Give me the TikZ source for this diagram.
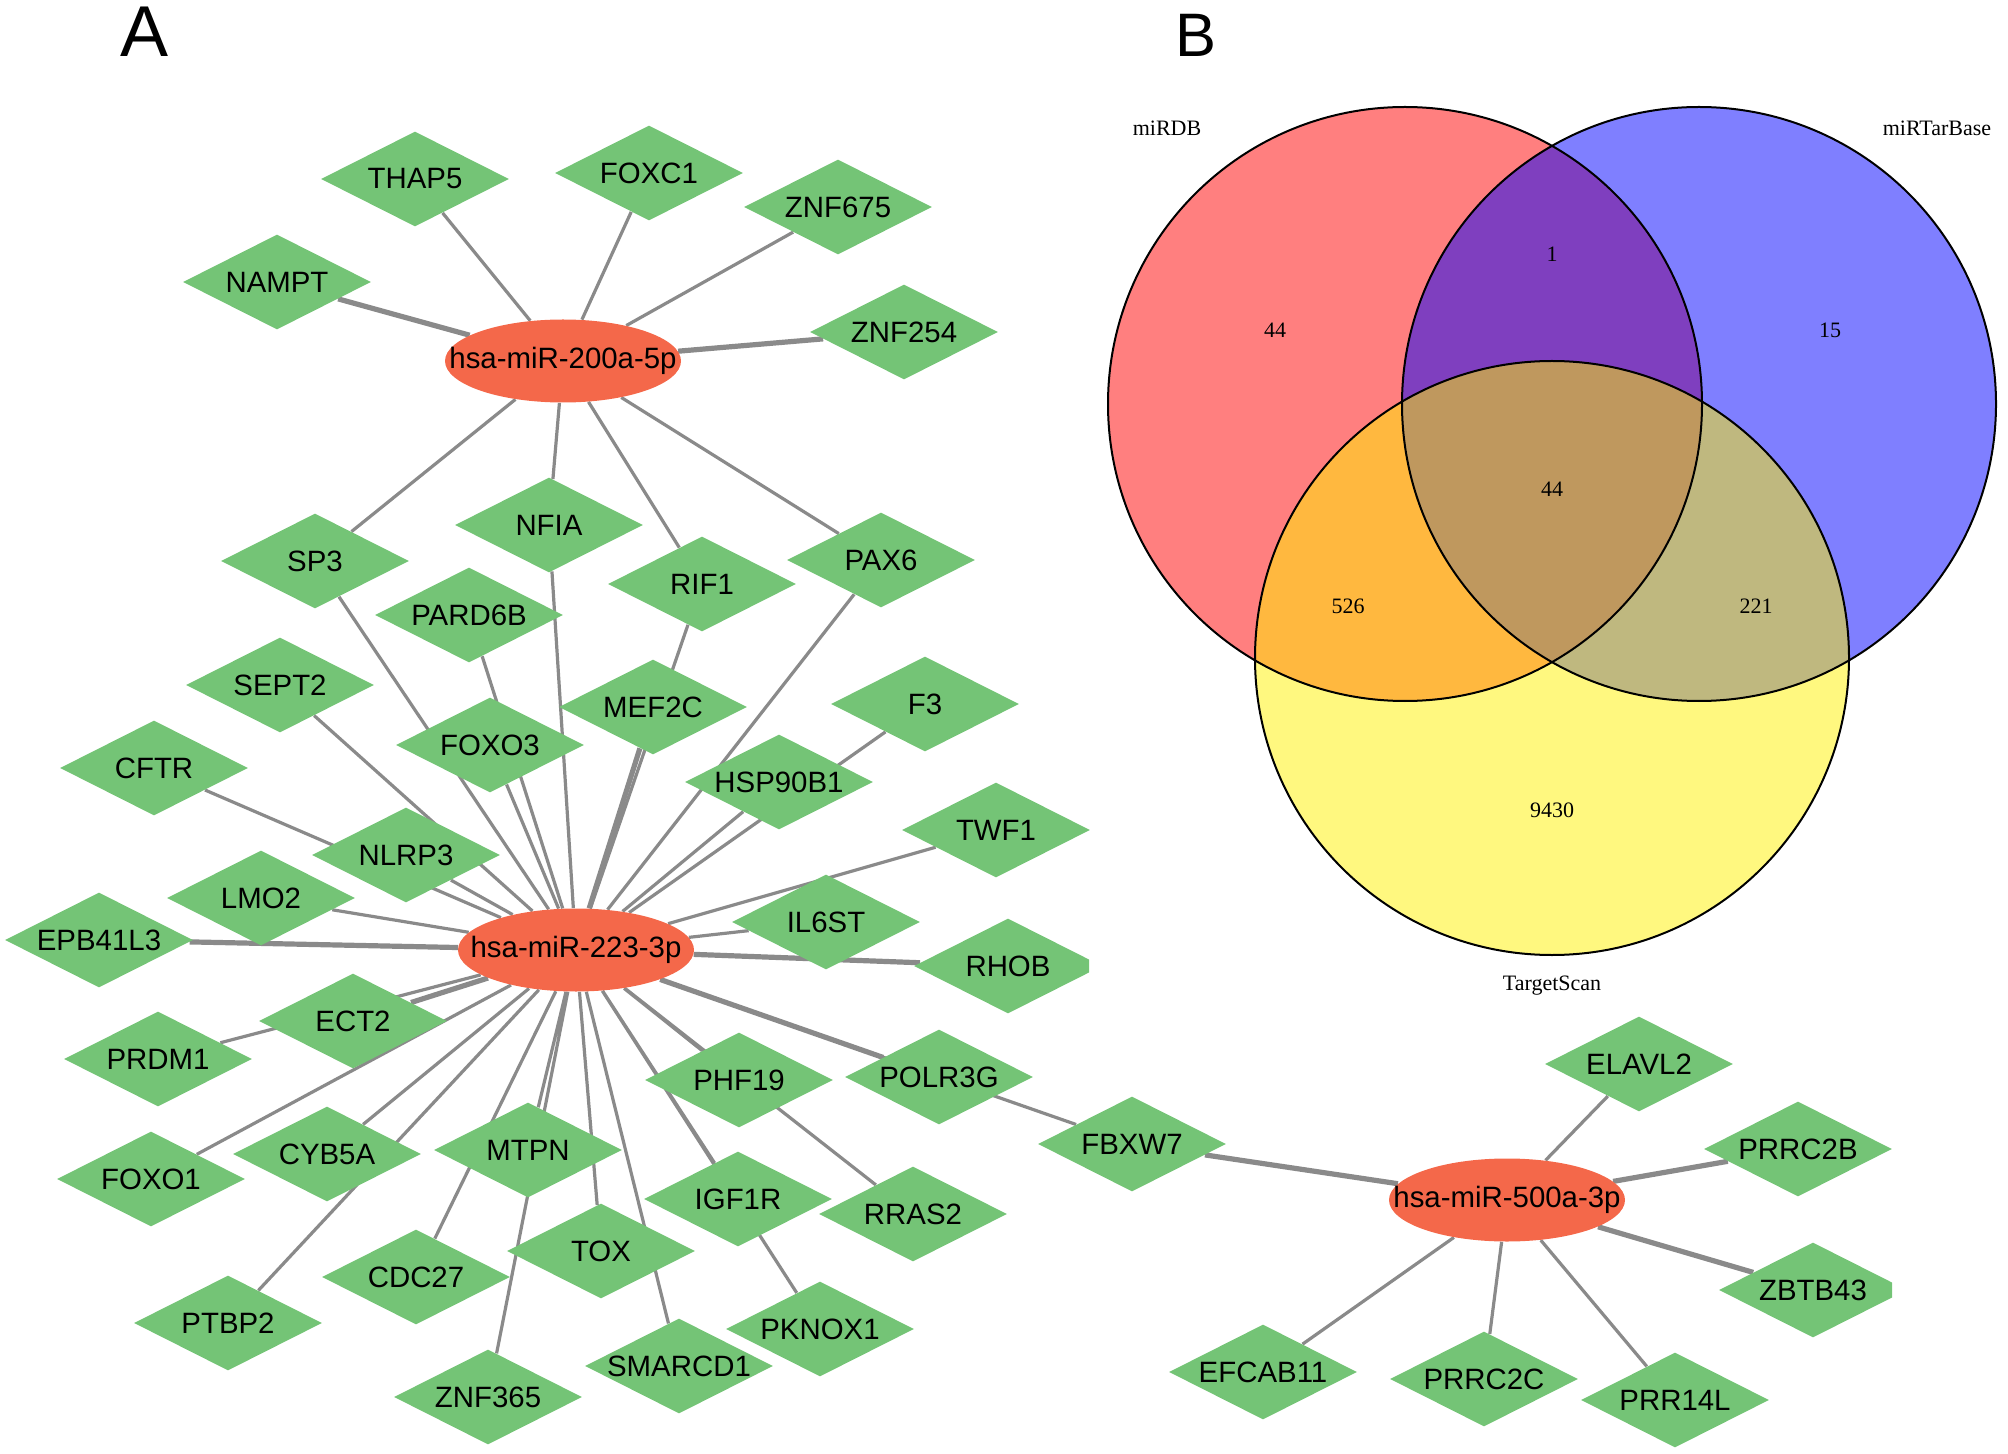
\documentclass[tikz,border=0pt]{standalone}
\usepackage{fontspec}
\setmainfont{Liberation Sans}
\newfontfamily\vennfont{Liberation Serif}
\usetikzlibrary{shapes.geometric}
\pgfdeclarelayer{background}
\pgfsetlayers{background,main}
\definecolor{genegreen}{RGB}{116,196,118}
\definecolor{mirred}{RGB}{244,104,74}
\definecolor{edgegray}{RGB}{138,138,138}

\begin{document}
\begin{tikzpicture}[x=0.5pt, y=-0.5pt,
    flat/.style={inner sep=0pt, execute at begin node={\hbox to 0pt\bgroup\hss},
      execute at end node={\hss\egroup}, font=\fontsize{14.7}{16}\selectfont},
    gene/.style={flat, shape=diamond, fill=genegreen, minimum width=94pt, minimum height=47.5pt},
    mir/.style={flat, shape=ellipse, fill=mirred, minimum width=118pt, minimum height=41.5pt},
    edge/.style={draw=edgegray, line width=1.6pt},
    heavy/.style={draw=edgegray, line width=2.6pt},
    setfill/.style={fill opacity=0.5},
    venn/.style={font=\vennfont\fontsize{11}{13}\selectfont},
    panel/.style={anchor=base}]

  \useasboundingbox (0,0) rectangle (2008,1454);

  % panel letters
  \node[panel, font=\fontsize{36}{40}\selectfont] (panela) at (145,57) {A};
  \node[panel, font=\fontsize{30.7}{34}\selectfont] (panelb) at (1196,57) {B};

  % hubs
  \node[mir] (hubA) at (563 , 361 ) {hsa-miR-200a-5p};
  \node[mir] (hubB) at (576 , 950 ) {hsa-miR-223-3p};
  \node[mir] (hubC) at (1507, 1200) {hsa-miR-500a-3p};

  % targets of miR-200a-5p
  \node[gene] (thap5)  at (415, 179) {THAP5};
  \node[gene] (foxc1)  at (649, 173) {FOXC1};
  \node[gene] (znf675) at (838, 207) {ZNF675};
  \node[gene] (nampt)  at (277, 282) {NAMPT};
  \node[gene] (znf254) at (904, 332) {ZNF254};

  % shared targets
  \node[gene] (sp3)  at (315, 561) {SP3};
  \node[gene] (nfia) at (549, 525) {NFIA};
  \node[gene] (rif1) at (702, 584) {RIF1};
  \node[gene] (pax6) at (881, 560) {PAX6};

  % targets of miR-223-3p
  \node[gene] (pard6b)  at (469 , 615 ) {PARD6B};
  \node[gene] (sept2)   at (280 , 685 ) {SEPT2};
  \node[gene] (mef2c)   at (653 , 707 ) {MEF2C};
  \node[gene] (f3)      at (925 , 704 ) {F3};
  \node[gene] (foxo3)   at (490 , 745 ) {FOXO3};
  \node[gene] (cftr)    at (154 , 768 ) {CFTR};
  \node[gene] (hsp90b1) at (779 , 782 ) {HSP90B1};
  \node[gene] (twf1)    at (996 , 830 ) {TWF1};
  \node[gene] (nlrp3)   at (406 , 855 ) {NLRP3};
  \node[gene] (lmo2)    at (261 , 898 ) {LMO2};
  \node[gene] (epb41l3) at (99  , 940 ) {EPB41L3};
  \node[gene] (il6st)   at (826 , 922 ) {IL6ST};
  \begin{scope}
    \clip (900,880) rectangle (1089,1060);
    \node[gene] (rhob) at (1008, 966) {RHOB};
  \end{scope}
  \node[gene] (ect2)    at (353 , 1021) {ECT2};
  \node[gene] (prdm1)   at (158 , 1059) {PRDM1};
  \node[gene] (phf19)   at (739 , 1080) {PHF19};
  \node[gene] (polr3g)  at (939 , 1077) {POLR3G};
  \node[gene] (foxo1)   at (151 , 1179) {FOXO1};
  \node[gene] (cyb5a)   at (327 , 1154) {CYB5A};
  \node[gene] (mtpn)    at (528 , 1150) {MTPN};
  \node[gene] (igf1r)   at (738 , 1199) {IGF1R};
  \node[gene] (rras2)   at (913 , 1214) {RRAS2};
  \node[gene] (tox)     at (601 , 1251) {TOX};
  \node[gene] (cdc27)   at (416 , 1277) {CDC27};
  \node[gene] (ptbp2)   at (228 , 1323) {PTBP2};
  \node[gene] (pknox1)  at (820 , 1329) {PKNOX1};
  \node[gene] (smarcd1) at (679 , 1366) {SMARCD1};
  \node[gene] (znf365)  at (488 , 1397) {ZNF365};

  % shared with miR-500a-3p
  \node[gene] (fbxw7) at (1132, 1144) {FBXW7};

  % targets of miR-500a-3p
  \node[gene] (elavl2)  at (1639, 1064) {ELAVL2};
  \node[gene] (prrc2b)  at (1798, 1149) {PRRC2B};
  \begin{scope}
    \clip (1700,1230) rectangle (1892,1350);
    \node[gene] (zbtb43) at (1813, 1290) {ZBTB43};
  \end{scope}
  \node[gene] (efcab11) at (1263, 1372) {EFCAB11};
  \node[gene] (prrc2c)  at (1484, 1379) {PRRC2C};
  \node[gene] (prr14l)  at (1675, 1400) {PRR14L};

  % edges, behind the nodes
  \begin{pgfonlayer}{background}
    \draw[edge] (hubA) -- (thap5) (hubA) -- (foxc1) (hubA) -- (znf675)
      (hubA) -- (sp3) (hubA) -- (nfia) (hubA) -- (rif1) (hubA) -- (pax6);
    \draw[heavy] (hubA) -- (nampt) (hubA) -- (znf254);

    \draw[edge] (hubB) -- (sp3) (hubB) -- (nfia) (hubB) -- (rif1) (hubB) -- (pax6)
      (hubB) -- (pard6b) (hubB) -- (sept2) (hubB) -- (f3) (hubB) -- (foxo3)
      (hubB) -- (cftr) (hubB) -- (hsp90b1) (hubB) -- (twf1) (hubB) -- (nlrp3)
      (hubB) -- (lmo2) (hubB) -- (il6st) (hubB) -- (prdm1) (hubB) -- (phf19)
      (hubB) -- (foxo1) (hubB) -- (cyb5a) (hubB) -- (mtpn) (hubB) -- (igf1r)
      (hubB) -- (rras2) (hubB) -- (tox) (hubB) -- (cdc27) (hubB) -- (ptbp2)
      (hubB) -- (pknox1) (hubB) -- (smarcd1) (hubB) -- (znf365) (hubB) -- (fbxw7);
    \draw[heavy] (hubB) -- (mef2c) (hubB) -- (epb41l3) (hubB) -- (rhob)
      (hubB) -- (ect2) (hubB) -- (polr3g);

    \draw[edge] (hubC) -- (elavl2) (hubC) -- (efcab11) (hubC) -- (prrc2c)
      (hubC) -- (prr14l);
    \draw[heavy] (hubC) -- (fbxw7) (hubC) -- (prrc2b) (hubC) -- (zbtb43);
  \end{pgfonlayer}

  % venn diagram
  \fill[red, setfill]    (1405, 404) circle[radius=148.5pt];
  \fill[blue, setfill]   (1699, 404) circle[radius=148.5pt];
  \fill[yellow, setfill] (1552, 658) circle[radius=148.5pt];
  \draw[line width=1pt] (1405, 404) circle[radius=148.5pt];
  \draw[line width=1pt] (1699, 404) circle[radius=148.5pt];
  \draw[line width=1pt] (1552, 658) circle[radius=148.5pt];

  \node[venn] (mirdb)      at (1167, 128) {miRDB};
  \node[venn] (mirtarbase) at (1937, 128) {miRTarBase};
  \node[venn] (targetscan) at (1552, 986) {TargetScan};
  \node[venn] (onlydb)     at (1275, 330) {44};
  \node[venn] (dbtar)      at (1552, 254) {1};
  \node[venn] (onlytar)    at (1830, 330) {15};
  \node[venn] (allthree)   at (1552, 489) {44};
  \node[venn] (dbscan)     at (1348, 606) {526};
  \node[venn] (tarscan)    at (1756, 606) {221};
  \node[venn] (onlyscan)   at (1552, 810) {9430};

\end{tikzpicture}
\end{document}
